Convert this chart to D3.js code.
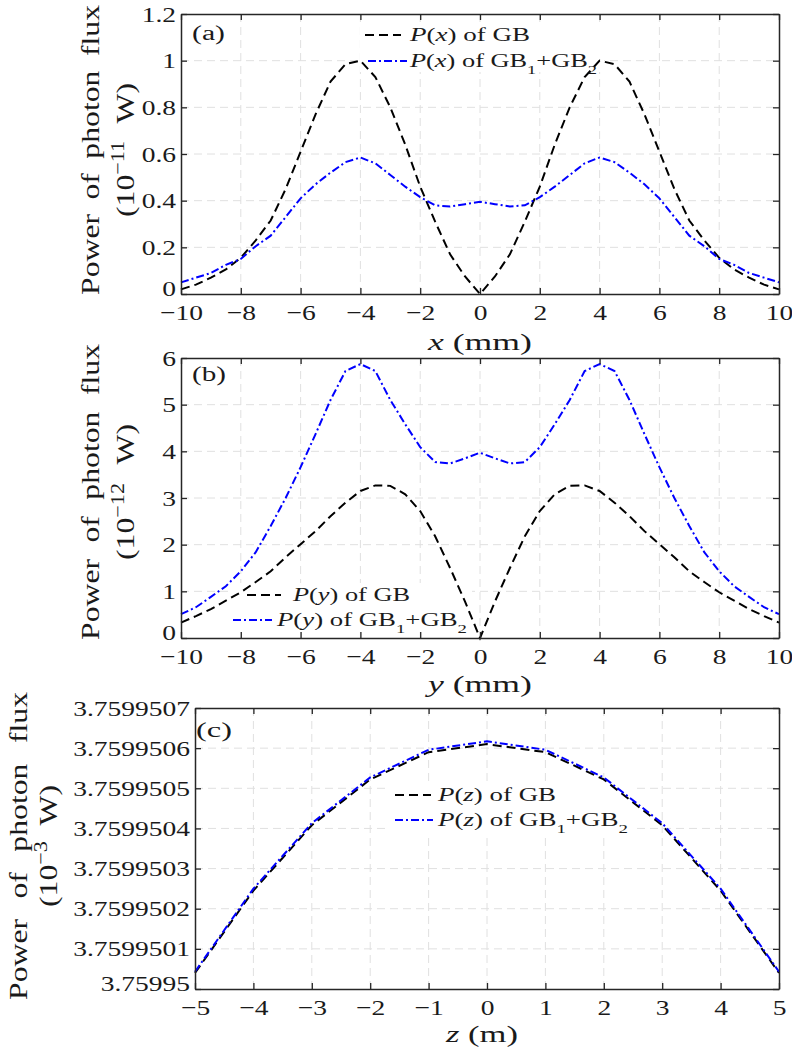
<!DOCTYPE html>
<html><head><meta charset="utf-8">
<script src="https://cdn.jsdelivr.net/npm/d3@7"></script>
<style>body{margin:0;background:#fff} svg text{font-family:"Liberation Serif",serif;fill:#1a1a1a}</style>
</head><body>
<svg id="chart" width="792" height="1059"></svg>
<script>
// ---------------- data ----------------
const xPos = [-10,-9.5,-9,-8.5,-8,-7.5,-7,-6.5,-6,-5.5,-5,-4.5,-4,-3.5,-3,-2.5,-2,-1.5,-1,-0.5,0,
              0.5,1,1.5,2,2.5,3,3.5,4,4.5,5,5.5,6,6.5,7,7.5,8,8.5,9,9.5,10];
const pxGB   = [0.02,0.04,0.07,0.105,0.155,0.23,0.315,0.45,0.61,0.77,0.91,0.985,1.0,0.93,0.80,0.64,0.46,0.31,0.17,0.075,0.0,
                0.075,0.17,0.31,0.46,0.64,0.80,0.93,1.0,0.985,0.91,0.77,0.61,0.45,0.315,0.23,0.155,0.105,0.07,0.04,0.02];
const pxGB12 = [0.05,0.07,0.09,0.125,0.15,0.205,0.25,0.33,0.41,0.47,0.52,0.565,0.585,0.56,0.51,0.46,0.415,0.38,0.375,0.385,0.395,
                0.385,0.375,0.38,0.415,0.46,0.51,0.56,0.585,0.565,0.52,0.47,0.41,0.33,0.25,0.205,0.15,0.125,0.09,0.07,0.05];
const yPos = xPos;
const pyGB   = [0.33,0.47,0.62,0.80,0.98,1.20,1.43,1.73,2.01,2.29,2.61,2.90,3.15,3.27,3.26,3.08,2.72,2.18,1.50,0.78,0.0,
                0.78,1.50,2.18,2.72,3.08,3.26,3.27,3.15,2.90,2.61,2.29,2.01,1.73,1.43,1.20,0.98,0.80,0.62,0.47,0.33];
const pyGB12 = [0.51,0.66,0.88,1.11,1.43,1.84,2.40,3.00,3.66,4.37,5.10,5.72,5.87,5.72,5.10,4.58,4.09,3.77,3.74,3.85,3.97,
                3.85,3.74,3.77,4.09,4.58,5.10,5.72,5.87,5.72,5.10,4.37,3.66,3.00,2.40,1.84,1.43,1.11,0.88,0.66,0.51];
const zPos = [-5,-4,-3,-2,-1,0,1,2,3,4,5];
const pzGB   = [3.759950040,3.759950245,3.759950408,3.759950522,3.759950590,3.759950610,3.759950590,3.759950522,3.759950408,3.759950245,3.759950040];
const pzGB12 = [3.759950043,3.759950250,3.759950413,3.759950527,3.759950596,3.759950617,3.759950596,3.759950527,3.759950413,3.759950250,3.759950043];

const xTicks = [-10,-8,-6,-4,-2,0,2,4,6,8,10];
const xTickLabels = ["\u221210","\u22128","\u22126","\u22124","\u22122","0","2","4","6","8","10"];
const zTicks = [-5,-4,-3,-2,-1,0,1,2,3,4,5];
const zTickLabels = ["\u22125","\u22124","\u22123","\u22122","\u22121","0","1","2","3","4","5"];
const aYTicks = [0,0.2,0.4,0.6,0.8,1.0,1.2];
const aYTickLabels = ["0","0.2","0.4","0.6","0.8","1","1.2"];
const bYTicks = [0,1,2,3,4,5,6];
const bYTickLabels = ["0","1","2","3","4","5","6"];
const cYTicks = [3.75995,3.7599501,3.7599502,3.7599503,3.7599504,3.7599505,3.7599506,3.7599507];
const cYTickLabels = ["3.75995","3.7599501","3.7599502","3.7599503","3.7599504","3.7599505","3.7599506","3.7599507"];

// ---------------- drawing ----------------
const svg = d3.select("#chart");
const AX = "#262626";

function stretch(sel, k) {
  sel.each(function () {
    const w = this.getComputedTextLength();
    d3.select(this).attr("textLength", w * k).attr("lengthAdjust", "spacingAndGlyphs");
  });
}
function fitTo(sel, w) {
  sel.attr("textLength", w).attr("lengthAdjust", "spacingAndGlyphs");
}
function wordFit(sel, w) {
  const node = sel.node();
  const nat = node.getComputedTextLength();
  const n = (node.textContent.match(/ /g) || []).length;
  if (n > 0 && w > nat) sel.style("word-spacing", ((w - nat) / n) + "px");
}
function richText(textSel, parts) {
  parts.forEach(p => {
    const t = textSel.append("tspan").text(p.t);
    if (p.i) t.attr("font-style", "italic");
    if (p.sub) t.attr("baseline-shift", "sub").attr("font-size", "70%");
    if (p.sup) t.attr("baseline-shift", "super").attr("font-size", "70%");
  });
  return textSel;
}

function panel(cfg) {
  const g = svg.append("g");
  const x = d3.scaleLinear().domain(cfg.xd).range([cfg.l, cfg.r]);
  const y = d3.scaleLinear().domain(cfg.yd).range([cfg.b, cfg.t]);

  // grid
  const grid = g.append("g").attr("stroke", "#e0e0e0").attr("stroke-width", 1).attr("stroke-dasharray", "8,5");
  grid.selectAll(".gx").data(cfg.xt.slice(1, -1)).join("line")
    .attr("x1", d => x(d)).attr("x2", d => x(d)).attr("y1", cfg.t).attr("y2", cfg.b);
  grid.selectAll(".gy").data(cfg.yt.slice(1, -1)).join("line")
    .attr("y1", d => y(d)).attr("y2", d => y(d)).attr("x1", cfg.l).attr("x2", cfg.r);

  // legend background
  g.append("rect").attr("x", cfg.lg.box[0]).attr("y", cfg.lg.box[1])
    .attr("width", cfg.lg.box[2]).attr("height", cfg.lg.box[3]).attr("fill", "#fff");

  // curves
  const line = d3.line().x(d => x(d[0])).y(d => y(d[1]));
  g.append("path").datum(cfg.xs.map((v, i) => [v, cfg.s1[i]]))
    .attr("d", line).attr("fill", "none").attr("stroke", "#000")
    .attr("stroke-width", 2).attr("stroke-dasharray", "9,5");
  g.append("path").datum(cfg.xs.map((v, i) => [v, cfg.s2[i]]))
    .attr("d", line).attr("fill", "none").attr("stroke", "#0000ff")
    .attr("stroke-width", 2).attr("stroke-dasharray", "8,3,2,3");

  // axes
  const styleAxis = a => {
    a.attr("font-family", null).attr("font-size", 22);
    a.selectAll(".domain").attr("stroke", AX).attr("stroke-width", 1.5);
    a.selectAll(".tick line").attr("stroke", AX).attr("stroke-width", 1.3);
    a.selectAll(".tick text").attr("fill", "#1a1a1a");
  };
  const ab = g.append("g").attr("transform", `translate(0,${cfg.b})`)
    .call(d3.axisBottom(x).tickValues(cfg.xt).tickFormat((d, i) => cfg.xtl[i])
      .tickSizeInner(-6).tickSizeOuter(0).tickPadding(10));
  styleAxis(ab);
  const at = g.append("g").attr("transform", `translate(0,${cfg.t})`)
    .call(d3.axisTop(x).tickValues(cfg.xt).tickFormat("").tickSizeInner(-6).tickSizeOuter(0));
  styleAxis(at);
  const al = g.append("g").attr("transform", `translate(${cfg.l},0)`)
    .call(d3.axisLeft(y).tickValues(cfg.yt).tickFormat((d, i) => cfg.ytl[i])
      .tickSizeInner(-6).tickSizeOuter(0).tickPadding(5));
  styleAxis(al);
  const ar = g.append("g").attr("transform", `translate(${cfg.r},0)`)
    .call(d3.axisRight(y).tickValues(cfg.yt).tickFormat("").tickSizeInner(-6).tickSizeOuter(0));
  styleAxis(ar);
  stretch(ab.selectAll(".tick text"), 1.25);
  stretch(al.selectAll(".tick text"), 1.25);
  al.selectAll(".tick text").filter((d, i) => i === 0).attr("dy", "0.08em");

  // panel label
  fitTo(g.append("text").attr("x", cfg.pl[0]).attr("y", cfg.pl[1]).attr("font-size", 20).text(cfg.pl[2]), cfg.pl[3]);

  // x label
  const xl = g.append("text").attr("x", cfg.xl[0]).attr("y", cfg.xl[1]).attr("font-size", 24);
  richText(xl, [{t: cfg.xl[2], i: true}, {t: cfg.xl[3]}]);
  fitTo(xl, cfg.xl[4]);

  // y label (two lines, rotated; glyphs widened along the baseline like the reference)
  const S = 1.22;
  const y1 = g.append("text").attr("transform", `translate(${cfg.yl.b1},${cfg.yl.c}) rotate(-90) scale(${S},1)`)
    .attr("text-anchor", "middle").attr("font-size", 26).text("Power of photon flux");
  wordFit(y1, cfg.yl.len1 / S);
  const y2 = g.append("text").attr("transform", `translate(${cfg.yl.b2},${cfg.yl.c}) rotate(-90) scale(${S},1)`)
    .attr("text-anchor", "middle").attr("font-size", 26);
  richText(y2, [{t: "(10"}, {t: cfg.yl.exp, sup: true}, {t: " W)"}]);
  wordFit(y2, cfg.yl.len2 / S);

  // legend
  const L = cfg.lg;
  g.append("line").attr("x1", L.r1[0]).attr("x2", L.r1[1]).attr("y1", L.r1[2]).attr("y2", L.r1[2])
    .attr("stroke", "#000").attr("stroke-width", 2).attr("stroke-dasharray", "9,5");
  g.append("line").attr("x1", L.r2[0]).attr("x2", L.r2[1]).attr("y1", L.r2[2]).attr("y2", L.r2[2])
    .attr("stroke", "#0000ff").attr("stroke-width", 2).attr("stroke-dasharray", "8,3,2,3");
  const t1 = g.append("text").attr("x", L.t1[0]).attr("y", L.t1[1]).attr("font-size", 18);
  richText(t1, [{t: "P", i: true}, {t: "("}, {t: L.v, i: true}, {t: ") of GB"}]);
  fitTo(t1, L.t1[2]);
  const t2 = g.append("text").attr("x", L.t2[0]).attr("y", L.t2[1]).attr("font-size", 18);
  richText(t2, [{t: "P", i: true}, {t: "("}, {t: L.v, i: true}, {t: ") of GB"}, {t: "1", sub: true}, {t: "+GB"}, {t: "2", sub: true}]);
  fitTo(t2, L.t2[2]);
}

panel({
  xd: [-10, 10], yd: [0, 1.2], l: 181, r: 779, t: 14, b: 294,
  xs: xPos, s1: pxGB, s2: pxGB12,
  xt: xTicks, xtl: xTickLabels, yt: aYTicks, ytl: aYTickLabels,
  pl: [192, 40, "(a)", 33],
  xl: [428, 350, "x", " (mm)", 104],
  yl: {b1: 99, b2: 134, c: 150, len1: 290, len2: 134, exp: "\u221211"},
  lg: {box: [360, 24, 244, 48], v: "x",
       r1: [365, 401, 35], r2: [368, 407, 61],
       t1: [410, 41, 120], t2: [410, 67, 187]}
});

panel({
  xd: [-10, 10], yd: [0, 6], l: 181, r: 779, t: 358, b: 638,
  xs: yPos, s1: pyGB, s2: pyGB12,
  xt: xTicks, xtl: xTickLabels, yt: bYTicks, ytl: bYTickLabels,
  pl: [192, 381, "(b)", 34],
  xl: [428, 692, "y", " (mm)", 104],
  yl: {b1: 99, b2: 134, c: 492, len1: 296, len2: 136, exp: "\u221212"},
  lg: {box: [228, 583, 244, 49], v: "y",
       r1: [247, 281, 595], r2: [233, 272, 620],
       t1: [293, 601, 117], t2: [277, 626, 190]}
});

panel({
  xd: [-5, 5], yd: [3.75995, 3.7599507], l: 195, r: 779, t: 708, b: 989,
  xs: zPos, s1: pzGB, s2: pzGB12,
  xt: zTicks, xtl: zTickLabels, yt: cYTicks, ytl: cYTickLabels,
  pl: [196, 737, "(c)", 36],
  xl: [446, 1042, "z", " (m)", 72],
  yl: {b1: 27, b2: 57, c: 846, len1: 308, len2: 122, exp: "\u22123"},
  lg: {box: [388, 783, 245, 50], v: "z",
       r1: [395, 431, 795], r2: [395, 433, 820],
       t1: [438, 801, 118], t2: [438, 826, 190]}
});
</script>
</body></html>
